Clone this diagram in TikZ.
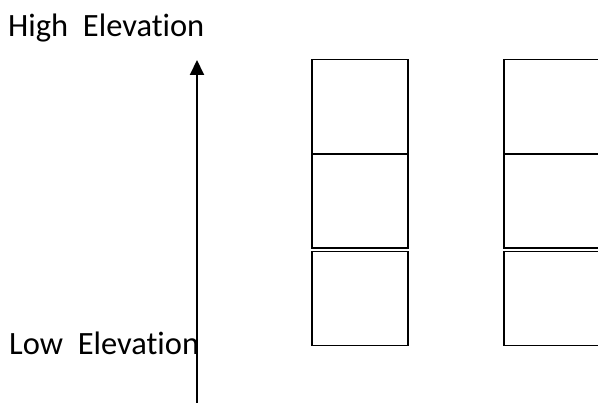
\documentclass[tikz,border=0pt]{standalone}
\usepackage{fontspec}
\newfontfamily\lblfont[Ligatures=NoCommon]{Carlito}
\usetikzlibrary{arrows.meta}
\begin{document}
\begin{tikzpicture}[x=1pt,y=-1pt,
  cell/.style={draw=black,line width=1.5pt,minimum width=96pt,minimum height=94pt,inner sep=0pt,outer sep=0pt,anchor=north west},
  lbl/.style={font=\lblfont\fontsize{32.5}{36}\selectfont,inner sep=0pt,anchor=base west}]
\useasboundingbox (0,0) rectangle (598,403);
\node[lbl] (high) at (8,36.5) {High\ \ Elevation};
\node[lbl] (low) at (9,354.5) {Low\ \ Elevation};
\coordinate (abot) at (197,405);
\coordinate (atop) at (197,60);
\draw[line width=2pt,-{Triangle[width=14pt,length=15pt]}] (abot) -- (atop);
\node[cell] (a1) at (312,59.5) {};
\node[cell] (a2) at (312,154) {};
\node[cell] (a3) at (312,251.5) {};
\node[cell] (b1) at (504,59.5) {};
\node[cell] (b2) at (504,154) {};
\node[cell] (b3) at (504,251.5) {};
\end{tikzpicture}
\end{document}
